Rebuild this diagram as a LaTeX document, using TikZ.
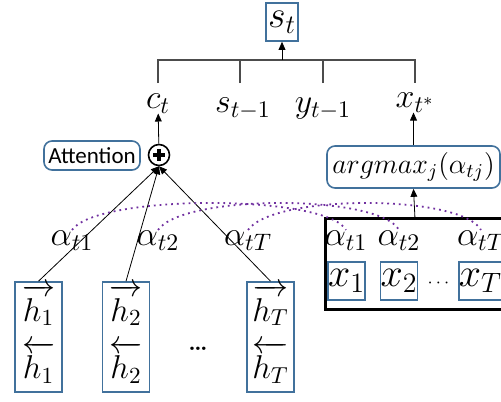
\RequirePackage{fix-cm}
\documentclass[tikz,border=0pt]{standalone}
\usepackage{amsmath}
\usepackage{fontspec}
\newfontfamily\boxfont{Carlito}
\usetikzlibrary{arrows.meta, positioning}
\definecolor{boxblue}{RGB}{65,113,156}
\definecolor{attnpurple}{RGB}{112,48,160}
\newcommand{\hfw}[1]{\overrightarrow{\rule{0pt}{12.5pt}#1}}
\newcommand{\hbw}[1]{\overleftarrow{\rule{0pt}{12.5pt}#1}}

\begin{document}
\begin{tikzpicture}[x=0.5pt, y=-0.5pt, >={Triangle[length=4pt,width=3.4pt]},
        every node/.style={inner sep=0pt},
        bluebox/.style={draw=boxblue, line width=0.8pt},
        roundbox/.style={bluebox, rounded corners=4pt},
        lbl/.style={font=\fontsize{17}{20}\selectfont},
        big/.style={font=\fontsize{20}{24}\selectfont},
        hbox/.style={bluebox, align=center, minimum width=23.5pt, minimum height=55pt, font=\fontsize{16.5}{20}\selectfont},
        tree/.style={draw=black!70, line width=0.7pt},
        weight/.style={attnpurple, dotted, line width=0.9pt}]
        \useasboundingbox (0,0) rectangle (501,401);

        % decoder state
        \node[bluebox, font=\fontsize{19}{22}\selectfont, minimum width=16pt, minimum height=19pt] (st) at (282,22) {$s_t$};
        \coordinate (join) at (282,60);
        \node[lbl, anchor=base] (ct) at (158,108) {$c_t$};
        \node[lbl, anchor=base] (stm) at (243,112) {$s_{t-1}$};
        \node[lbl, anchor=base] (ytm) at (323,112) {$y_{t-1}$};
        \node[lbl, anchor=base] (xts) at (415,107) {$x_{t^*}$};
        \coordinate (tc) at (158,83);
        \coordinate (ts) at (240,83);
        \coordinate (ty) at (323,83);
        \coordinate (tx) at (415,83);

        % baum nach oben
        \draw[tree] (tc) -- (tc |- join) -- (tx |- join) -- (tx);
        \draw[tree] (ts) -- (ts |- join);
        \draw[tree] (ty) -- (ty |- join);
        \draw[->] (join) -- (st);

        % attention
        \node[circle, draw, line width=0.8pt, minimum size=10.5pt,
              path picture={
                \draw[line width=2.2pt] ([xshift=-2.9pt]path picture bounding box.center) -- ([xshift=2.9pt]path picture bounding box.center);
                \draw[line width=2.2pt] ([yshift=-2.9pt]path picture bounding box.center) -- ([yshift=2.9pt]path picture bounding box.center);
              }] (plus) at (159,155) {};
        \node[roundbox, minimum width=48pt, minimum height=14.5pt, font=\boxfont\fontsize{11.5}{13}\selectfont] (attn) at (92,155.5) {Attention};
        \draw[->] (plus) -- (ct);

        % encoder
        \node[hbox] (h1) at (38.5,337) {$\begin{array}{@{}c@{}}\hfw{h_1}\\[4pt]\hbw{h_1}\end{array}$};
        \node[hbox] (h2) at (126,337) {$\begin{array}{@{}c@{}}\hfw{h_2}\\[4pt]\hbw{h_2}\end{array}$};
        \node[hbox] (hT) at (270.5,337) {$\begin{array}{@{}c@{}}\hfw{h_T}\\[4pt]\hbw{h_T}\end{array}$};
        \node[anchor=base, font=\fontsize{12}{14}\selectfont\bfseries] (hdots) at (198,350) {\ldots};
        \draw[->] (h1.north) -- (plus.south);
        \draw[->] (h2.north) -- (plus.south);
        \draw[->] (hT.north) -- (plus.south);
        \node[lbl, anchor=base] (la1) at (72,245) {$\alpha_{t1}$};
        \node[lbl, anchor=base] (la2) at (158,245) {$\alpha_{t2}$};
        \node[lbl, anchor=base] (laT) at (248,245) {$\alpha_{tT}$};

        % auswahl
        \node[roundbox, minimum width=86.5pt, minimum height=21pt, font=\fontsize{14}{17}\selectfont] (argmax) at (413.5,167) {$argmax_j(\alpha_{tj})$};
        \node[draw, line width=1.4pt, minimum width=89.5pt, minimum height=45.5pt, anchor=north west] (cands) at (324,217) {};
        \node[lbl, anchor=base] (ra1) at (346,245) {$\alpha_{t1}$};
        \node[lbl, anchor=base] (ra2) at (399,245) {$\alpha_{t2}$};
        \node[lbl, anchor=base] (raT) at (481,245) {$\alpha_{tT}$};
        \node[bluebox, big, minimum width=15.5pt, minimum height=19pt] (x1) at (346.5,281) {$x_1$};
        \node[bluebox, big, minimum width=15.5pt, minimum height=19pt] (x2) at (399,281) {$x_2$};
        \node[bluebox, big, minimum width=15.5pt, minimum height=19pt] (xT) at (480.5,281) {$x_T$};
        \node[font=\fontsize{9}{10}\selectfont] (xdots) at (440,283) {$\cdots$};
        \draw[->] (cands.north) -- (argmax.south);
        \draw[->] (argmax.north) -- (xts.south -| argmax.north);

        % gewichte
        \draw[weight] (la1.north) .. controls +(25,-36) and +(-20,-36) .. (ra1.north);
        \draw[weight] (la2.north) .. controls +(25,-36) and +(-20,-36) .. (ra2.north);
        \draw[weight] (laT.north) .. controls +(25,-36) and +(-20,-36) .. (raT.north);
\end{tikzpicture}
\end{document}
